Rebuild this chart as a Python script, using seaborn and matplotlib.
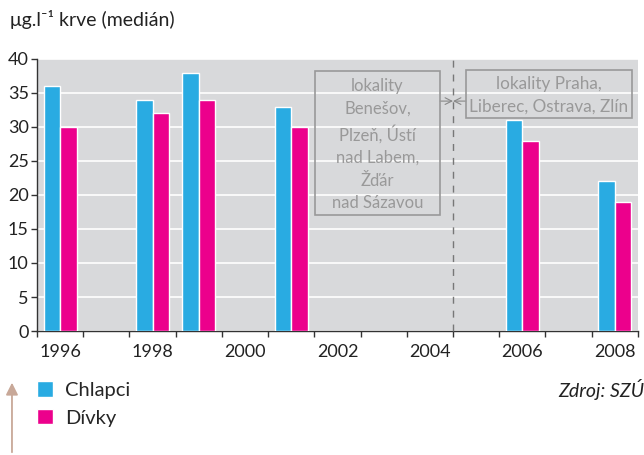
import pandas as pd
import matplotlib.pyplot as plt
import seaborn as sns
from matplotlib.patches import Rectangle, FancyArrowPatch

# data
roky = [1996, 1998, 1999, 2001, 2006, 2008]
chlapci = [36, 34, 38, 33, 31, 22]
divky = [30, 32, 34, 30, 28, 19]
skupiny = ["Chlapci", "Dívky"]
barvy = ["#29abe2", "#ec008c"]

df = pd.DataFrame({
    "rok": roky * 2,
    "hodnota": chlapci + divky,
    "pohlavi": [skupiny[0]] * len(roky) + [skupiny[1]] * len(roky),
})

sns.set_theme(style="white")
plt.rcParams["font.family"] = ["Lato", "DejaVu Sans"]

fig = plt.figure(figsize=(6.44, 4.55), dpi=100)
ax = fig.add_axes([0.0575, 0.2725, 0.933, 0.598])
ax.set_facecolor("#d8d9db")

sns.barplot(data=df, x="rok", y="hodnota", hue="pohlavi", native_scale=True,
            width=0.72, palette=barvy, saturation=1, ax=ax, zorder=3)

ax.set_xlim(1995.5, 2008.5)
ax.set_ylim(0, 40)
ax.set_yticks(range(0, 41, 5))
ax.yaxis.grid(True, color="white", linewidth=1.2, zorder=1)
ax.set_axisbelow(True)

ax.set_xticks(range(1996, 2009, 2))
ax.set_xticklabels([str(r) for r in range(1996, 2009, 2)])
ax.set_xticks([r + 0.5 for r in range(1995, 2009)], minor=True)
ax.tick_params(axis="x", which="major", length=0, pad=9, labelsize=13, colors="#222222")
ax.tick_params(axis="x", which="minor", length=4, width=1, color="#333333", direction="out", bottom=True)
ax.tick_params(axis="y", length=4, width=1, color="#333333", direction="out", left=True,
               labelsize=13, colors="#222222", pad=2)
ax.set_xlabel("")
ax.set_ylabel("")

for s in ["top", "right"]:
    ax.spines[s].set_visible(False)
for s in ["left", "bottom"]:
    ax.spines[s].set_color("#333333")
    ax.spines[s].set_linewidth(1)

# boundary between the two sets of localities
ax.axvline(2004.5, ymax=1.01, color="#777777", linewidth=1, linestyle=(0, (5, 5)),
           clip_on=False, zorder=4)

sedy = "#999999"
ax.add_patch(Rectangle((2001.51, 17.06), 2.71, 21.14, fill=False, edgecolor=sedy,
                       linewidth=1.2, zorder=4))
ax.text(2002.865, 27.4, "lokality\nBenešov,\nPlzeň, Ústí\nnad Labem,\nŽďár\nnad Sázavou",
        ha="center", va="center", fontsize=12, color=sedy, linespacing=1.5, zorder=5)
ax.add_patch(Rectangle((2004.78, 31.3), 3.59, 7.1, fill=False, edgecolor=sedy,
                       linewidth=1.2, zorder=4))
ax.text(2006.575, 34.7, "lokality Praha,\nLiberec, Ostrava, Zlín",
        ha="center", va="center", fontsize=12.3, color=sedy, linespacing=1.5, zorder=5)
ax.annotate("", xy=(2004.5, 33.8), xytext=(2004.22, 33.8),
            arrowprops=dict(arrowstyle="->", color="#888888", lw=0.8, shrinkA=0, shrinkB=0))
ax.annotate("", xy=(2004.5, 33.8), xytext=(2004.78, 33.8),
            arrowprops=dict(arrowstyle="->", color="#888888", lw=0.8, shrinkA=0, shrinkB=0))

fig.text(0.016, 0.958, "μg.l⁻¹ krve (medián)", fontsize=14, color="#222222", va="center")

handles, labels = ax.get_legend_handles_labels()
ax.legend_.remove()
fig.legend(handles, labels, loc="upper left", bbox_to_anchor=(0.045, 0.18), frameon=False,
           fontsize=14.5, handlelength=0.8, handleheight=0.8, handletextpad=0.6,
           labelspacing=0.5, borderaxespad=0)

fig.text(1.0, 0.145, "Zdroj: SZÚ", fontsize=14, style="italic", color="#222222",
         ha="right", va="center")

# decorative arrow at bottom left
fig.patches.append(FancyArrowPatch(
    (0.0186, 0.0), (0.0186, 0.165), transform=fig.transFigure, arrowstyle="-|>",
    mutation_scale=18, color="#c8a898", lw=1.3))

fig.savefig("out.png", dpi=100)
